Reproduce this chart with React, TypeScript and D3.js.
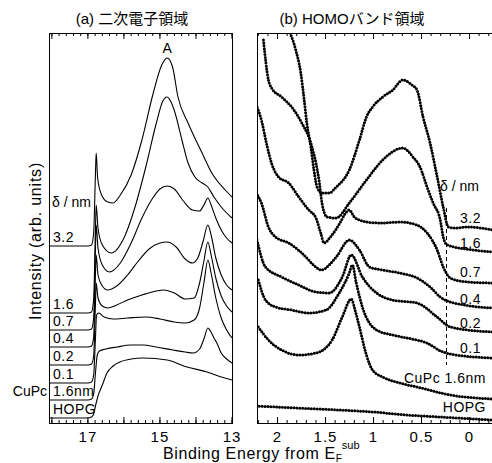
import React from "react";
import * as d3 from "d3";

// ---- (a) 二次電子領域 : [binding energy (eV), intensity (arb.)]
const hopgA = [[18.08,5],[17.0,5],[16.9,6],[16.84,9],[16.79,17],[16.72,27],[16.6,38],[16.47,50],[16.3,57],[16.11,61],[15.8,64],[15.47,65],[14.8,63],[14.25,56],[13.69,51],[13.3,46],[13.0,43]];
const cupcA = [[18.08,23],[17.0,23],[16.9,24],[16.84,29],[16.79,50],[16.74,68],[16.68,72],[16.5,74],[16.2,76],[15.8,78],[15.47,78],[15.1,76],[14.64,73],[14.3,71],[14.08,70],[13.9,74],[13.78,84],[13.67,95],[13.6,92],[13.5,85],[13.42,80],[13.3,70],[13.15,64],[13.0,60]];
const d01A = [[18.08,40],[17.0,40],[16.9,41],[16.84,48],[16.79,85],[16.76,108],[16.7,110],[16.55,106],[16.3,104],[15.9,105],[15.4,106],[15.0,104],[14.6,101],[14.3,100],[14.05,103],[13.9,115],[13.78,140],[13.67,163],[13.58,150],[13.45,125],[13.3,105],[13.15,93],[13.0,85]];
const d02A = [[18.08,58],[17.0,58],[16.9,59],[16.84,67],[16.79,120],[16.77,140],[16.72,125],[16.6,117],[16.45,115],[16.2,118],[15.9,123],[15.5,128],[15.1,132],[14.9,133],[14.6,130],[14.3,124],[14.05,125],[13.9,140],[13.78,162],[13.67,181],[13.58,168],[13.45,145],[13.3,127],[13.15,117],[13.0,111]];
const d04A = [[18.08,76],[17.0,76],[16.9,77],[16.84,86],[16.79,150],[16.77,168],[16.72,148],[16.6,137],[16.45,133],[16.2,137],[15.9,148],[15.6,162],[15.3,174],[15.0,180],[14.8,181],[14.55,176],[14.3,164],[14.1,160],[13.95,165],[13.8,182],[13.67,198],[13.58,188],[13.45,165],[13.3,148],[13.15,138],[13.0,133]];
const d07A = [[18.08,93],[17.0,93],[16.9,94],[16.84,105],[16.79,175],[16.77,198],[16.72,175],[16.6,158],[16.4,151],[16.1,160],[15.8,180],[15.5,205],[15.2,225],[15.0,234],[14.8,237],[14.6,234],[14.35,222],[14.1,213],[13.9,212],[13.78,218],[13.67,225],[13.58,218],[13.45,205],[13.3,193],[13.15,185],[13.0,180]];
const d16A = [[18.08,110],[17.0,110],[16.9,111],[16.84,124],[16.79,195],[16.77,218],[16.72,195],[16.6,178],[16.35,170],[16.0,185],[15.7,215],[15.4,255],[15.1,300],[14.92,322],[14.8,326],[14.68,320],[14.58,310],[14.39,283],[14.22,260],[14.03,246],[13.83,240],[13.67,236],[13.5,226],[13.3,216],[13.0,205]];
const d32A = [[18.08,177],[17.0,177],[16.9,178],[16.84,190],[16.79,250],[16.77,270],[16.73,245],[16.62,228],[16.45,221],[16.3,220],[16.1,228],[15.8,248],[15.5,283],[15.2,328],[14.95,358],[14.8,365],[14.65,356],[14.5,326],[14.22,300],[13.83,270],[13.56,250],[13.19,233],[13.0,226]];

// ---- (b) HOMOバンド領域
const hopgB = [[2.221,17],[1.8,15],[1.358,13],[1.0,11],[0.65,8],[0.3,6],[-0.24,3]];
const cupcB = [[2.2,96],[2.095,83],[1.958,73],[1.779,68],[1.6,70],[1.432,83],[1.326,106],[1.232,124],[1.19,112],[1.147,96],[1.074,68],[1.011,53],[0.905,46],[0.726,40],[0.547,36],[0.2,28],[-0.24,24]];
const d01B = [[2.2,143],[2.126,123],[2.021,116],[1.853,113],[1.674,110],[1.495,113],[1.358,130],[1.253,150],[1.221,158],[1.18,140],[1.116,116],[0.968,93],[0.8,88],[0.6,84],[0.442,80],[0.3,72],[0.2,69],[-0.24,65]];
const d02B = [[2.221,186],[2.126,156],[1.958,146],[1.779,138],[1.6,131],[1.463,130],[1.326,146],[1.232,168],[1.116,146],[0.968,130],[0.8,123],[0.547,120],[0.337,106],[0.2,96],[-0.24,91]];
const d04B = [[2.221,230],[2.168,220],[2.095,196],[2.021,186],[1.884,180],[1.747,170],[1.6,156],[1.547,153],[1.389,166],[1.253,183],[1.147,173],[1.042,156],[0.905,153],[0.726,150],[0.547,145],[0.411,136],[0.305,126],[0.2,121],[-0.24,115]];
const d07B = [[2.221,318],[2.168,303],[2.116,280],[2.063,260],[1.989,246],[1.884,240],[1.779,226],[1.674,213],[1.6,205],[1.55,190],[1.516,180],[1.45,186],[1.35,200],[1.29,210],[1.253,213],[1.2,206],[1.147,203],[1.074,201],[0.905,200],[0.726,201],[0.547,198],[0.442,190],[0.337,173],[0.274,156],[0.2,145],[0.021,141],[-0.24,140]];
const d16B = [[2.147,383],[2.095,343],[2.063,335],[1.958,326],[1.853,316],[1.747,300],[1.653,280],[1.6,260],[1.568,243],[1.537,220],[1.484,206],[1.389,205],[1.253,220],[1.074,243],[0.905,263],[0.695,275],[0.589,266],[0.516,256],[0.442,236],[0.379,220],[0.305,203],[0.274,186],[0.232,178],[-0.042,173],[-0.24,171]];
const d32B = [[1.895,395],[1.81,373],[1.758,350],[1.726,326],[1.695,300],[1.653,276],[1.621,253],[1.589,236],[1.537,230],[1.463,230],[1.389,236],[1.253,253],[1.147,283],[1.074,306],[1.011,316],[0.905,326],[0.8,333],[0.695,343],[0.6,338],[0.547,333],[0.484,306],[0.411,280],[0.337,246],[0.274,216],[0.221,196],[0.15,195],[0.021,196],[-0.24,193]];

const labelsA = ["HOPG", "1.6nm", "0.1", "0.2", "0.4", "0.7", "1.6", "3.2"];
const seriesA = [hopgA, cupcA, d01A, d02A, d04A, d07A, d16A, d32A];
const labelsB = ["HOPG", "CuPc 1.6nm", "0.1", "0.2", "0.4", "0.7", "1.6", "3.2"];
const seriesB = [hopgB, cupcB, d01B, d02B, d04B, d07B, d16B, d32B];
const labelLiftB = [8, 16, 5, 4, 4, 6, 4, 7];

const tickLabelsA = [17, 15, 13];
const tickLabelsB = [2, 1.5, 1, 0.5, 0];
const dashedE = 0.24;
const dashedRange = [58, 215];
const peakA = 14.8;

const FONT = "'Liberation Sans', Arial, Helvetica, 'Noto Sans CJK JP', sans-serif";

const TOP = 33, BOTTOM = 423;
const xA = d3.scaleLinear().domain([18.08, 13]).range([49, 232]);
const xB = d3.scaleLinear().domain([2.214, -0.234]).range([257, 492]);
const y = d3.scaleLinear().domain([0, 390]).range([BOTTOM, TOP]);

const lineA = d3.line<number[]>().x(d => xA(d[0])).y(d => y(d[1])).curve(d3.curveMonotoneX);
const lineB = d3.line<number[]>().x(d => xB(d[0])).y(d => y(d[1])).curve(d3.curveMonotoneX);

function Ticks({ x, minor, major }: any) {
  return (
    <g stroke="#000" strokeWidth={1}>
      {minor.map((t: number) => (
        <g key={"m" + t}>
          <line x1={x(t)} x2={x(t)} y1={BOTTOM} y2={BOTTOM - 3} />
          <line x1={x(t)} x2={x(t)} y1={TOP} y2={TOP + 3} />
        </g>
      ))}
      {major.map((t: number) => (
        <g key={"M" + t}>
          <line x1={x(t)} x2={x(t)} y1={BOTTOM} y2={BOTTOM - 6} />
          <line x1={x(t)} x2={x(t)} y1={TOP} y2={TOP + 6} />
        </g>
      ))}
    </g>
  );
}

export default function App() {
  const [a0, a1] = xA.range();
  const [b0, b1] = xB.range();
  return (
    <svg width={492} height={463} style={{ position: "absolute", left: 0, top: 0, background: "#fff" }}
      fontFamily={FONT}>
      <defs>
        <clipPath id="clipA"><rect x={a0} y={TOP} width={a1 - a0} height={BOTTOM - TOP} /></clipPath>
        <clipPath id="clipB"><rect x={b0} y={TOP} width={b1 - b0} height={BOTTOM - TOP} /></clipPath>
      </defs>

      {/* titles */}
      <text x={132} y={24} fontSize={15} textAnchor="middle">(a) 二次電子領域</text>
      <text x={352} y={24} fontSize={15} textAnchor="middle">(b) HOMOバンド領域</text>

      {/* panel a */}
      <g clipPath="url(#clipA)">
        {seriesA.map((s, i) => (
          <path key={i} d={lineA(s) || ""} fill="none" stroke="#000" strokeWidth={1.1} />
        ))}
      </g>
      <rect x={a0 + 0.5} y={TOP + 0.5} width={a1 - a0} height={BOTTOM - TOP} fill="none" stroke="#000" />
      <Ticks x={xA} minor={xA.ticks(25)} major={xA.ticks(5)} />
      {tickLabelsA.map(t => (
        <text key={t} x={xA(t)} y={442} fontSize={15} textAnchor="middle" letterSpacing={1}>{t}</text>
      ))}
      <text x={xA(peakA)} y={53} fontSize={14} textAnchor="middle">A</text>
      <text x={52} y={207} fontSize={14}>δ / nm</text>
      {seriesA.map((s, i) => (
        <text key={i} x={53} y={y(s[0][1]) - 4} fontSize={14} letterSpacing={0.5}>{labelsA[i]}</text>
      ))}
      <text x={47} y={y(cupcA[0][1]) - 4} fontSize={14} textAnchor="end">CuPc</text>

      {/* panel b */}
      <g clipPath="url(#clipB)">
        {seriesB.map((s, i) => (
          <path key={i} d={lineB(s) || ""} fill="none" stroke="#000" strokeWidth={3}
            strokeLinecap="round" strokeDasharray="0 2.9" />
        ))}
      </g>
      <line x1={xB(dashedE)} x2={xB(dashedE)} y1={y(dashedRange[1])} y2={y(dashedRange[0])}
        stroke="#000" strokeWidth={1} strokeDasharray="4 3" />
      <rect x={b0 + 0.5} y={TOP + 0.5} width={b1 - b0 + 5} height={BOTTOM - TOP} fill="none" stroke="#000" />
      <Ticks x={xB} minor={xB.ticks(25)} major={xB.ticks(5)} />
      {tickLabelsB.map(t => (
        <text key={t} x={xB(t)} y={442} fontSize={15} textAnchor="middle" letterSpacing={1}>{t}</text>
      ))}
      <text x={479} y={191} fontSize={14} textAnchor="end">δ / nm</text>
      {seriesB.map((s, i) => (
        <text key={i} x={i < 2 ? 486 : 481} y={y(s[s.length - 1][1]) - labelLiftB[i]} fontSize={14}
          textAnchor="end" letterSpacing={0.5}>{labelsB[i]}</text>
      ))}

      {/* axis titles */}
      <text transform="translate(41,241) rotate(-90)" fontSize={16} textAnchor="middle" letterSpacing={0.8}>
        Intensity (arb. units)
      </text>
      <text x={163} y={459} fontSize={16} letterSpacing={0.6}>
        Binding Energy from E<tspan dy={3} fontSize={10} letterSpacing={0}>F</tspan>
        <tspan dy={-13} fontSize={11} letterSpacing={0}>sub</tspan>
      </text>
    </svg>
  );
}
